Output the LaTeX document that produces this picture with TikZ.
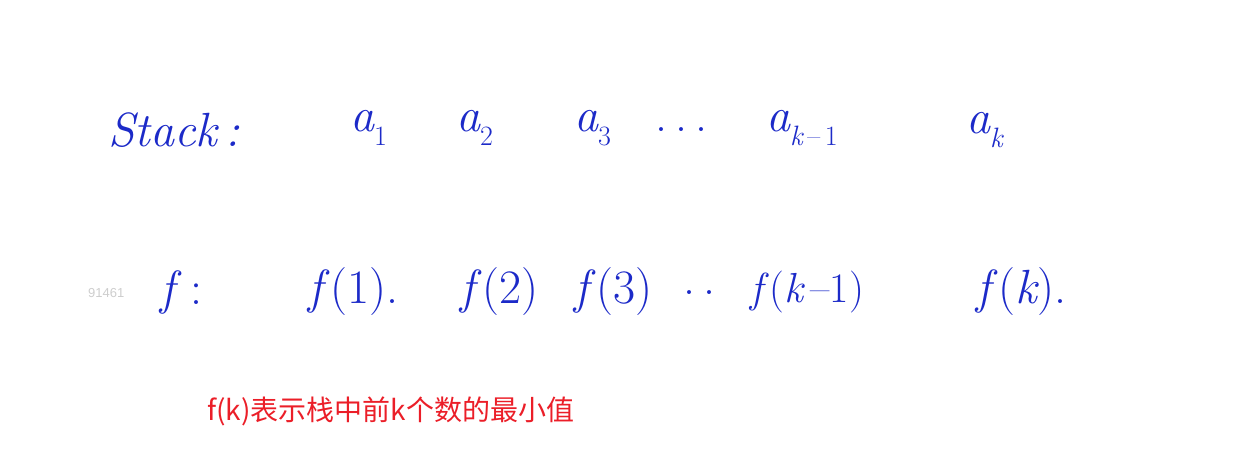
\documentclass[tikz,border=0pt]{standalone}
\usepackage{fontspec}
\newfontfamily\cjk{Noto Sans CJK SC}
\newfontfamily\gsans{Liberation Sans}
\definecolor{penblue}{RGB}{28,42,200}
\definecolor{notered}{RGB}{235,30,40}
\definecolor{markgray}{RGB}{205,205,205}
\newcommand{\hsub}[1]{\raisebox{-0.28em}{\fontsize{28}{32}\selectfont #1}}
\newcommand{\vi}[1]{{\itshape #1}}
\begin{document}
\begin{tikzpicture}[x=1pt,y=-1pt,
  hand/.style={text=penblue,inner sep=0pt,anchor=west,font=\fontsize{48}{54}\selectfont\itshape},
  handm/.style={text=penblue,inner sep=0pt,anchor=west,font=\fontsize{48}{54}\selectfont},
  notetext/.style={text=notered,inner sep=0pt,anchor=west,font=\cjk\fontsize{28}{34}\selectfont},
  wmark/.style={text=markgray,inner sep=0pt,anchor=west,font=\gsans\fontsize{13}{15}\selectfont}]
\useasboundingbox (0,0) rectangle (1248,475);
% row 1
\node[hand] (stack) at (108,130) {Stack\,:};
\node[handm] (a1) at (350,128) {\vi{a}\hsub{1}};
\node[handm] (a2) at (456,128) {\vi{a}\hsub{2}};
\node[handm] (a3) at (574,128) {\vi{a}\hsub{3}};
\node[handm] (d1) at (655,130) {.\,.\,.};
\node[handm] (ak1) at (766,128) {\vi{a}\hsub{\vi{k}\,–\,1}};
\node[handm] (ak) at (966,130) {\vi{a}\hsub{\vi{k}}};
% row 2
\node[wmark] (wm) at (88,293) {91461};
\node[handm] (f) at (160,292) {\vi{f}\,\,:};
\node[handm] (f1) at (308,292) {\vi{f}\,(1).};
\node[handm] (f2) at (460,292) {\vi{f}\,(2)};
\node[handm] (f3) at (574,292) {\vi{f}\,(3)};
\node[handm] (d2) at (683,293) {.\,.};
\node[handm,font=\fontsize{42}{48}\selectfont] (fk1) at (750,292) {\vi{f}\,(\vi{k}\,–1)};
\node[handm] (fk) at (976,292) {\vi{f}\,(\vi{k}).};
% note
\node[notetext] (n) at (207,411) {f(k)表示栈中前k个数的最小值};
\end{tikzpicture}
\end{document}
